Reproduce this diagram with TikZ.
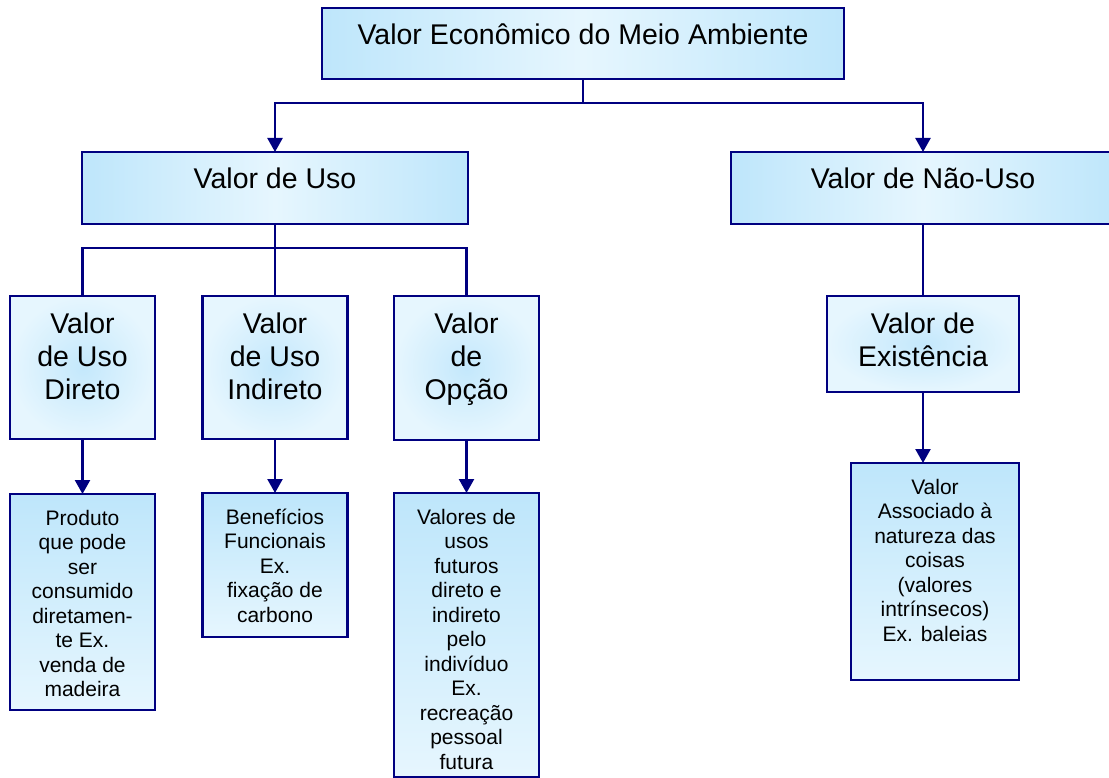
\documentclass[tikz,border=0pt]{standalone}
\usepackage{fontspec}
\setmainfont{Liberation Sans}
\usetikzlibrary{arrows.meta}
\definecolor{navy}{RGB}{0,0,128}
\definecolor{bD}{RGB}{190,230,251}
\definecolor{bL}{RGB}{230,246,254}
\definecolor{bM}{RGB}{196,232,252}
\newcommand{\hbtxt}[3]{\parbox[c][#1][t]{#2}{\centering\fontsize{28.5}{33}\selectfont\vspace*{13pt}\rule{0pt}{24pt}#3\par}}
\newcommand{\smtxt}[3]{\parbox[c][#1][t]{#2}{\centering\fontsize{21}{24.5}\selectfont\vspace*{11pt}\rule{0pt}{20pt}#3\par}}
\tikzset{
  boxbase/.style={draw=navy, line width=2.6pt, inner sep=0pt, outer sep=0pt, anchor=center},
  lvA/.style={boxbase, left color=bD, right color=bD, middle color=bL},
  lvB/.style={boxbase, inner color=bM, outer color=bL},
  lvC/.style={boxbase, top color=bD, bottom color=bL},
  conn/.style={draw=navy, line width=2.4pt},
  arr/.style={conn, -{Triangle[width=15pt,length=14pt]}}
}
\begin{document}
\begin{tikzpicture}[x=1pt,y=-1pt]
\useasboundingbox (0,0) rectangle (1109,778);
% level 1 and 2
\node[lvA] (top) at (583,43.5) {\hbtxt{71pt}{522pt}{Valor Econômico do Meio Ambiente}};
\node[lvA] (uso) at (275,188) {\hbtxt{72pt}{386pt}{Valor de Uso}};
\node[lvA] (naouso) at (923,188) {\hbtxt{72pt}{384pt}{Valor de Não-Uso}};
% level 3
\node[lvB] (direto) at (82.5,367.5) {\hbtxt{143pt}{145pt}{Valor\\de Uso\\Direto}};
\node[lvB] (indireto) at (275,367.5) {\hbtxt{143pt}{145pt}{Valor\\de Uso\\Indireto}};
\node[lvB] (opcao) at (466.5,368) {\hbtxt{144pt}{145pt}{Valor\\de\\Opção}};
\node[lvB] (exist) at (923,344) {\hbtxt{96pt}{192pt}{Valor de\\Existência}};
% text boxes
\node[lvC] (tdireto) at (82.5,602) {\smtxt{216pt}{145pt}{Produto\\que pode\\ser\\consumido\\diretamen-\\te Ex.\\venda de\\madeira}};
\node[lvC] (tindireto) at (275,565) {\smtxt{144pt}{145pt}{Benefícios\\Funcionais\\Ex.\\fixação de\\carbono}};
\node[lvC] (topcao) at (466.5,635) {\smtxt{284pt}{145pt}{Valores de\\usos\\futuros\\direto e\\indireto\\pelo\\indivíduo\\Ex.\\recreação\\pessoal\\futura}};
\node[lvC] (texist) at (935,571.5) {\smtxt{217pt}{168pt}{Valor\\Associado à\\natureza das\\coisas\\(valores\\intrínsecos)\\Ex. baleias}};
% connectors
\draw[conn] (top.south) -- ++(0,24) coordinate (busT);
\draw[arr] (busT) -| (uso.north);
\draw[arr] (busT) -| (naouso.north);
\draw[conn] (uso.south) -- ++(0,24) coordinate (busU);
\draw[conn] (busU) -| (direto.north);
\draw[conn] (busU) -| (opcao.north);
\draw[conn] (busU) -- (indireto.north);
\draw[conn] (naouso.south) -- (exist.north);
\draw[arr] (direto.south) -- (tdireto.north);
\draw[arr] (indireto.south) -- (tindireto.north);
\draw[arr] (opcao.south) -- (topcao.north);
\draw[arr] (exist.south) -- (exist.south |- texist.north);
\end{tikzpicture}
\end{document}
